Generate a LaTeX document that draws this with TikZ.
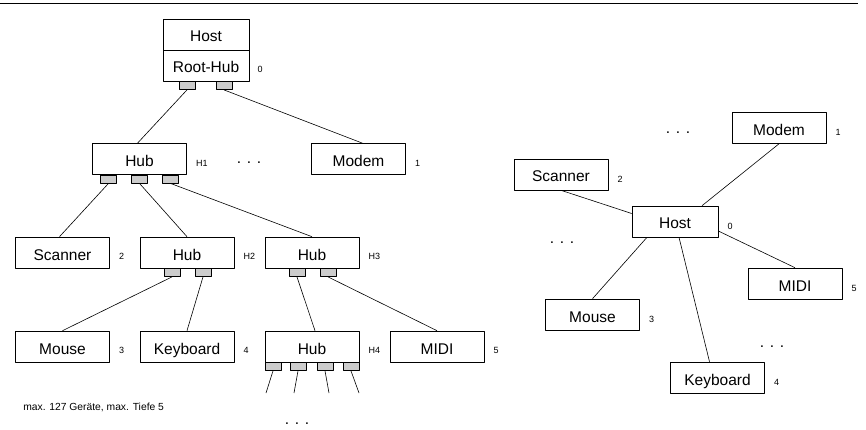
\documentclass[tikz,border=0pt]{standalone}
\usepackage{fontspec}
\setmainfont{Liberation Sans}
\begin{document}
\begin{tikzpicture}[x=1pt,y=-1pt,line join=round,line width=0.6pt,
		box/.style={draw,minimum width=94pt,minimum height=31pt,inner sep=0pt,
			text height=15pt,text depth=0pt,font=\fontsize{15.5}{18}\selectfont},
		port/.style={draw,fill=black!20,minimum width=16pt,minimum height=8pt,inner sep=0pt,anchor=north},
		num/.style={anchor=west,inner sep=0pt,font=\fontsize{9}{11}\selectfont},
		dots/.style={inner sep=0pt,font=\fontsize{15.5}{18}\selectfont}]
	\useasboundingbox (0,0) rectangle (866,430);
	\draw[line width=1.5pt] (0,3.5) -- (858,3.5);
	\node[box,minimum width=86pt] (host) at (206,34.5) {Host};
	\node[box,minimum width=86pt] (rhub) at (206,65.5) {Root-Hub};
	\node[port] (rp1) at ([xshift=-19pt]rhub.south) {};
	\node[port] (rp2) at ([xshift=18pt]rhub.south) {};
	\node[num] (n0) at ([xshift=8pt,yshift=-4pt]rhub.east) {0};
	\node[box] (h1) at (139.5,159) {Hub};
	\node[box] (modem) at (358.5,159) {Modem};
	\node[dots] (d1) at (249,163) {. . .};
	\node[box] (scanner) at (62.5,252.5) {Scanner};
	\node[box] (h2) at (187,252.5) {Hub};
	\node[box] (h3) at (312,252.5) {Hub};
	\node[box] (mouse) at (62.5,346.5) {Mouse};
	\node[box] (keyboard) at (187,346.5) {Keyboard};
	\node[box] (h4) at (312,346.5) {Hub};
	\node[box] (midi) at (437,346.5) {MIDI};
	\foreach \s/\n in {-31/1,0/2,31/3}
		\node[port] (h1p\n) at ([xshift=\s pt]h1.south) {};
	\foreach \s/\n in {-15/1,16/2}{
		\node[port] (h2p\n) at ([xshift=\s pt]h2.south) {};
		\node[port] (h3p\n) at ([xshift=\s pt]h3.south) {};
	}
	\foreach \s/\n in {-39/1,-14/2,13/3,39/4}
		\node[port] (h4p\n) at ([xshift=\s pt]h4.south) {};
	\node[num] (nh1) at ([xshift=9pt,yshift=-4pt]h1.east) {H1};
	\node[num] (n1) at ([xshift=9pt,yshift=-4pt]modem.east) {1};
	\node[num] (n2) at ([xshift=9pt,yshift=-4pt]scanner.east) {2};
	\node[num] (nh2) at ([xshift=9pt,yshift=-4pt]h2.east) {H2};
	\node[num] (nh3) at ([xshift=9pt,yshift=-4pt]h3.east) {H3};
	\node[num] (n3) at ([xshift=9pt,yshift=-4pt]mouse.east) {3};
	\node[num] (n4) at ([xshift=9pt,yshift=-4pt]keyboard.east) {4};
	\node[num] (nh4) at ([xshift=9pt,yshift=-4pt]h4.east) {H4};
	\node[num] (n5) at ([xshift=9pt,yshift=-4pt]midi.east) {5};
	\draw (rp1.south) -- ([xshift=-2pt]h1.north)
		(rp2.south) -- ([xshift=4pt]modem.north)
		(h1p1.south) -- ([xshift=-3pt]scanner.north)
		(h1p2.south) -- (h2.north)
		(h1p3.south) -- (h3.north)
		(h2p1.south) -- (mouse.north)
		(h2p2.south) -- (keyboard.north)
		(h3p1.south) -- ([xshift=3pt]h4.north)
		(h3p2.south) -- (midi.north);
	\coordinate (e1) at (266,393);
	\coordinate (e2) at (294,393);
	\coordinate (e3) at (329,393);
	\coordinate (e4) at (359,393);
	\foreach \n in {1,...,4}
		\draw (h4p\n.south) -- (e\n);
	\node[dots] (d2) at (297,424) {. . .};
	\node[num,font=\fontsize{10.3}{12}\selectfont] (note) at (23,407) {max. 127 Geräte, max. Tiefe 5};
	\node[box] (modemr) at (779,128) {Modem};
	\node[box] (scannerr) at (561,174.5) {Scanner};
	\node[box,minimum width=86pt] (hostr) at (675,221.5) {Host};
	\node[box] (midir) at (795,283.5) {MIDI};
	\node[box] (mouser) at (592.5,314.5) {Mouse};
	\node[box] (keyboardr) at (717.5,377.5) {Keyboard};
	\node[num] (r1) at ([xshift=9pt,yshift=-4.5pt]modemr.east) {1};
	\node[num] (r2) at ([xshift=9pt,yshift=-4.5pt]scannerr.east) {2};
	\node[num] (r0) at ([xshift=9pt,yshift=-4.5pt]hostr.east) {0};
	\node[num] (r5) at ([xshift=9pt,yshift=-4.5pt]midir.east) {5};
	\node[num] (r3) at ([xshift=9pt,yshift=-4.5pt]mouser.east) {3};
	\node[num] (r4) at ([xshift=9pt,yshift=-4.5pt]keyboardr.east) {4};
	\node[dots] (d3) at (678,133) {. . .};
	\node[dots] (d4) at (562,243) {. . .};
	\node[dots] (d5) at (772,347) {. . .};
	\draw (modemr.south) -- ([xshift=27pt]hostr.north)
		(scannerr.south) -- ([yshift=8pt]hostr.west)
		([xshift=-28pt]hostr.south) -- (mouser.north)
		([xshift=4pt]hostr.south) -- ([xshift=-8pt]keyboardr.north)
		([yshift=-9.5pt]hostr.east) -- (midir.north);
\end{tikzpicture}
\end{document}
